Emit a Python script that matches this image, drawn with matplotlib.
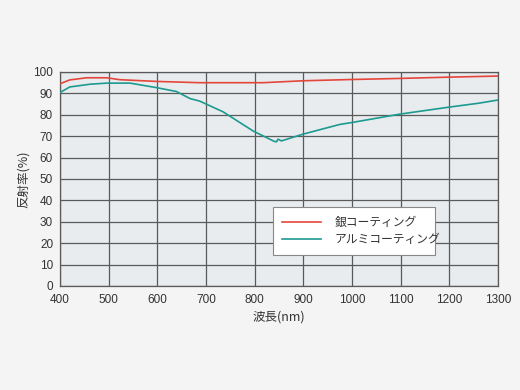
import matplotlib
matplotlib.use("Agg")
import matplotlib.pyplot as plt
from matplotlib.lines import Line2D

plt.rcParams['font.family'] = ['Liberation Sans', 'Noto Sans CJK JP', 'DejaVu Sans']

# wavelength (nm) / reflectance (%)
silver_nm = [400, 420, 455, 496, 523, 598, 687, 817, 900, 1000, 1100, 1200, 1300]
silver_r = [94.5, 96.3, 97.3, 97.3, 96.4, 95.6, 95.0, 95.0, 95.9, 96.5, 97.0, 97.6, 98.1]

alu_nm = [400, 420, 462, 496, 544, 598, 639, 667, 687, 735, 797, 840, 845, 848, 855,
          900, 975, 1000, 1098, 1200, 1260, 1300]
alu_r = [90.4, 93.0, 94.3, 94.8, 94.8, 92.7, 90.9, 87.6, 86.4, 81.4, 72.4, 67.6, 67.4,
         68.6, 67.8, 71.0, 75.5, 76.4, 80.3, 83.6, 85.4, 86.9]

labels = ['銀コーティング', 'アルミコーティング']
x_ticks = list(range(400, 1301, 100))
y_ticks = list(range(0, 101, 10))

red = '#e5463a'
teal = '#1d9a90'
txt = '#333333'

fig = plt.figure(figsize=(5.2, 3.9), dpi=100, facecolor='#f4f4f4')
ax = fig.add_axes([0.1154, 0.2667, 0.8423, 0.5487])
ax.set_facecolor('#e8ecef')

ax.plot(silver_nm, silver_r, color=red, lw=1.2, zorder=3)
ax.plot(alu_nm, alu_r, color=teal, lw=1.2, zorder=3)

ax.set_xlim(400, 1300)
ax.set_ylim(0, 100)
ax.set_xticks(x_ticks)
ax.set_yticks(y_ticks)
ax.grid(True, color='#5a5a5a', lw=0.9)
ax.set_axisbelow(True)
for s in ax.spines.values():
    s.set_color('#5a5a5a')
    s.set_linewidth(0.9)
ax.tick_params(length=0, labelsize=8.5, colors=txt)
ax.tick_params(axis='x', pad=6)
ax.tick_params(axis='y', pad=5)

ax.set_xlabel('波長(nm)', fontsize=9, color=txt, labelpad=3,
              family=['Noto Sans CJK JP', 'DejaVu Sans'])
ax.set_ylabel('反射率(%)', fontsize=9, color=txt, labelpad=2.5,
              family=['Noto Sans CJK JP', 'DejaVu Sans'])

handles = [Line2D([], [], color=red, lw=1.2), Line2D([], [], color=teal, lw=1.2)]
leg = ax.legend(handles, labels, loc='lower left', bbox_to_anchor=(0.486, 0.145, 0.37, 0.21),
                mode='expand', borderaxespad=0, fancybox=False, framealpha=1,
                edgecolor='#888888', handlelength=3.3, handletextpad=1.2,
                borderpad=0.75, labelspacing=0.35,
                prop={'family': ['Noto Sans CJK JP', 'DejaVu Sans'], 'size': 8.5})
leg.get_frame().set_linewidth(0.8)
for t in leg.get_texts():
    t.set_color(txt)

fig.savefig('out.png', dpi=100, facecolor=fig.get_facecolor())
